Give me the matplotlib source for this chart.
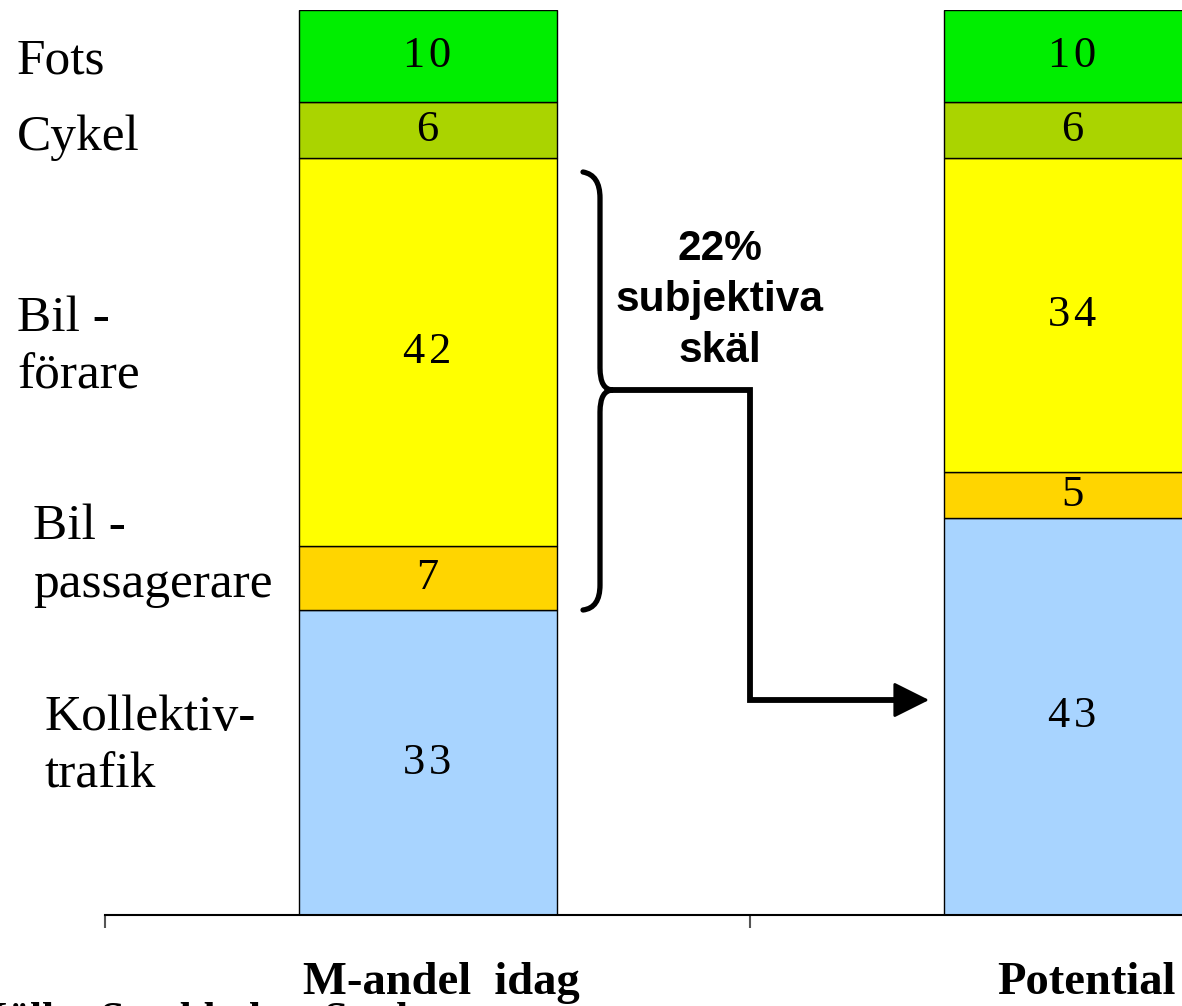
import matplotlib
matplotlib.use("Agg")
import matplotlib.pyplot as plt
import matplotlib.transforms as mtransforms
from matplotlib.path import Path
from matplotlib.patches import PathPatch
import numpy as np

# data
groups = ["M-andel  idag", "Potential"]
modes = ["Kollektiv-\ntrafik", "Bil -\npassagerare", "Bil -\nförare", "Cykel", "Fots"]
today = [33, 7, 42, 6, 10]
potential = [43, 5, 34, 6, 10]
colors = ["#a8d4ff", "#ffd500", "#ffff00", "#aad400", "#00ee00"]
note = "22%\nsubjektiva\nskäl"

W, H = 1182, 1006
fig = plt.figure(figsize=(W / 100, H / 100), dpi=100)

ax = fig.add_axes([105 / W, 91 / H, 1290 / W, 905 / H])
xpos = np.array([0.5, 1.5])
vals = np.array([today, potential])
bottom = np.zeros(2)
for i in range(len(modes)):
    ax.bar(xpos, vals[:, i], 0.4, bottom=bottom, color=colors[i],
           edgecolor="black", linewidth=1)
    for j in range(2):
        ax.text(xpos[j], bottom[j] + vals[j, i] / 2, "\u200a".join(str(vals[j, i])),
                ha="center", va="center", fontsize=32,
                family=["Liberation Serif", "DejaVu Serif"])
    bottom += vals[:, i]

ax.set_xlim(0, 2)
ax.set_ylim(0, 98)
for s in ["top", "left", "right"]:
    ax.spines[s].set_visible(False)
ax.spines["bottom"].set_linewidth(1.5)
ax.set_yticks([])
ax.set_xticks([0, 1, 2])
ax.set_xticklabels([])
ax.tick_params(axis="x", which="major", length=9, width=1.5, color="#555555")
ax.set_xticks(xpos, minor=True)
ax.set_xticklabels(groups, minor=True, fontsize=33.5, fontweight="bold",
                   family="Liberation Serif")
ax.tick_params(axis="x", which="minor", length=0, pad=34)
shift = mtransforms.ScaledTranslation(14 / 100, 0, fig.dpi_scale_trans)
for lab in ax.get_xticklabels(minor=True):
    lab.set_transform(lab.get_transform() + shift)

# mode labels on the left, anchored to the segments of the first bar
cum = np.cumsum([0] + today)
mid = (cum[:-1] + cum[1:]) / 2
label_x = [45, 33, 17, 17, 17]
label_dy = [16, 22, 4, -8, -5]  # pixel offsets (upwards)
for k in range(len(modes)):
    ax.annotate(modes[k], xy=(0, mid[k]), xycoords=("figure pixels", "data"),
                xytext=(label_x[k] * 0.72, label_dy[k] * 0.72),
                textcoords="offset points", ha="left", va="center",
                fontsize=37, family="Liberation Serif", linespacing=1.32,
                annotation_clip=False)

# overlay for brace and arrow, pixel coords
ov = fig.add_axes([0, 0, 1, 1])
ov.set_xlim(0, W)
ov.set_ylim(H, 0)
ov.axis("off")

verts = [(583, 172), (600, 175), (600, 198),
         (600, 368),
         (600, 390), (613, 390),
         (600, 390), (600, 412),
         (600, 585),
         (600, 608), (583, 610)]
codes = [Path.MOVETO, Path.CURVE3, Path.CURVE3,
         Path.LINETO,
         Path.CURVE3, Path.CURVE3,
         Path.CURVE3, Path.CURVE3,
         Path.LINETO,
         Path.CURVE3, Path.CURVE3]
ov.add_patch(PathPatch(Path(verts, codes), fill=False, lw=3.8,
                       edgecolor="black", capstyle="round"))
ov.plot([611, 750, 750, 900], [390, 390, 700, 700], color="black", lw=4.2,
        solid_joinstyle="miter")
ov.annotate("", xy=(929, 700), xytext=(880, 700),
            arrowprops=dict(arrowstyle="-|>,head_length=0.4,head_width=0.2",
                            mutation_scale=56, lw=2, color="black",
                            shrinkA=0, shrinkB=0))
ov.text(720, 300, note, ha="center", va="center", fontsize=30.5,
        fontweight="bold", family="Liberation Sans", linespacing=1.36)

# cut-off source line at the bottom edge
ov.text(-25, 1031, "Källa: Stockholms Stad", ha="left", va="baseline",
        fontsize=31, fontweight="bold", family="Liberation Serif")

fig.savefig("out.png", dpi=100)
